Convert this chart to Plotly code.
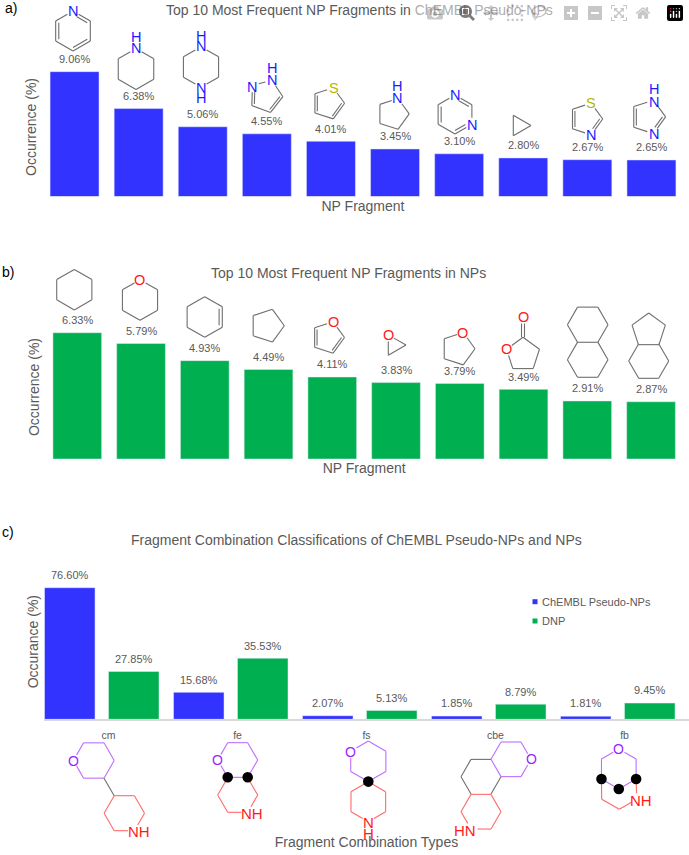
import math
import plotly.graph_objects as go

W, H = 689, 855
FONT = "Liberation Sans"
TXT = "#595959"
BLUE = "#3333FF"
GREEN = "#00B050"

# ---------- data ----------
np_fragments_a = ["Pyridine", "Piperidine", "Piperazine", "Pyrazole", "Thiophene",
                  "Pyrrolidine", "Pyrimidine", "Cyclopropane", "Thiazole", "Imidazole"]
occurrence_a = [9.06, 6.38, 5.06, 4.55, 4.01, 3.45, 3.10, 2.80, 2.67, 2.65]

np_fragments_b = ["Cyclohexane", "Tetrahydropyran", "Cyclohexene", "Cyclopentane", "Furan",
                  "Oxirane", "Tetrahydrofuran", "Butyrolactone", "Decalin", "Hydrindane"]
occurrence_b = [6.33, 5.79, 4.93, 4.49, 4.11, 3.83, 3.79, 3.49, 2.91, 2.87]

combo_types = ["cm", "fe", "fs", "cbe", "fb"]
chembl_pseudo_nps = [76.60, 15.68, 2.07, 1.85, 1.81]
dnp = [27.85, 35.53, 5.13, 8.79, 9.45]

# ---------- drawing helpers for molecule sketches (pixel positions on the page) ----------
shapes, annotations = [], []
GRAY, NBLUE, SYEL, ORED = "#6E6E6E", "#1A1AFF", "#B5B500", "#FF1A1A"
PURP, PURPL, RED_L, RED_T = "#BE6EFF", "#9A1FFF", "#FF6A6A", "#FF1A1A"


def px(x):
    return x / W


def py(y):
    return 1 - y / H


def text(x, y, s, size=14.5, color=TXT, anchor="center", angle=0):
    annotations.append(dict(xref="paper", yref="paper", x=px(x), y=py(y), text=s, showarrow=False,
                            xanchor=anchor, yanchor="middle", textangle=angle,
                            font=dict(family=FONT, size=size, color=color)))


def poly(cx, cy, r, n, rot=0):
    return [(cx + r * math.sin(math.radians(rot + 360 * i / n)),
             cy - r * math.cos(math.radians(rot + 360 * i / n))) for i in range(n)]


def seg(a, b, color=GRAY, ta=0, tb=0, w=1.1):
    d = math.hypot(b[0] - a[0], b[1] - a[1])
    ux, uy = (b[0] - a[0]) / d, (b[1] - a[1]) / d
    shapes.append(dict(type="line", xref="paper", yref="paper",
                       x0=px(a[0] + ux * ta), y0=py(a[1] + uy * ta),
                       x1=px(b[0] - ux * tb), y1=py(b[1] - uy * tb),
                       line=dict(color=color, width=w)))


def ring(cx, cy, r, n, rot=0, hetero=None, doubles=(), skip=(), color=GRAY, trim=6.5):
    """hetero: {vertex index: True}; doubles: edges i-(i+1) drawn with an inner line."""
    hetero = hetero or {}
    v = poly(cx, cy, r, n, rot)
    for i in range(n):
        if i in skip:
            continue
        j = (i + 1) % n
        ta = trim if i in hetero else 0
        tb = trim if j in hetero else 0
        seg(v[i], v[j], color, ta, tb)
        if i in doubles:
            k = 0.18
            a = (v[i][0] + (cx - v[i][0]) * k, v[i][1] + (cy - v[i][1]) * k)
            b = (v[j][0] + (cx - v[j][0]) * k, v[j][1] + (cy - v[j][1]) * k)
            seg(a, b, color, 4 if i in hetero else 0, 4 if j in hetero else 0)
    return v


def dot(x, y, r=5.3):
    shapes.append(dict(type="circle", xref="paper", yref="paper", x0=px(x - r), x1=px(x + r),
                       y0=py(y - r), y1=py(y + r), fillcolor="black", line=dict(width=0)))


# ---------- panel a sketches ----------
v = ring(73, 31, 20, 6, hetero={0: 1}, doubles=(0, 2, 4))
text(73, 11, "N", color=NBLUE)
ring(136, 69, 20.5, 6, hetero={0: 1})
text(135.5, 48, "N", color=NBLUE); text(135.5, 37, "H", color=NBLUE)
ring(201, 67, 20.3, 6, hetero={0: 1, 3: 1})
text(201, 46.5, "N", color=NBLUE); text(201, 36, "H", color=NBLUE)
text(201, 87.5, "N", color=NBLUE); text(201, 98, "H", color=NBLUE)
ring(265.9, 96.1, 17, 5, 20, hetero={0: 1, 4: 1}, doubles=(1, 3))
text(252, 86.7, "N", color=NBLUE); text(271.7, 80, "N", color=NBLUE); text(271.7, 68.5, "H", color=NBLUE)
ring(328.2, 103.3, 16.4, 5, 18, hetero={0: 1}, doubles=(1, 3))
text(333.5, 87.5, "S", color=SYEL)
ring(393, 113.9, 16.2, 5, 18, hetero={0: 1})
text(397.3, 98.3, "N", color=NBLUE); text(397.3, 86.5, "H", color=NBLUE)
ring(455, 114.5, 19.5, 6, hetero={0: 1, 2: 1}, doubles=(0, 2, 4))
text(455, 95, "N", color=NBLUE); text(472, 124.5, "N", color=NBLUE)
ring(519.2, 125.5, 11.8, 3, 90)
ring(586, 119, 16.7, 5, 90, hetero={1: 1, 4: 1}, doubles=(0, 2))
text(591, 135, "N", color=NBLUE); text(591, 103.3, "S", color=SYEL)
ring(648, 116.9, 17.6, 5, 90, hetero={1: 1, 4: 1}, doubles=(0, 2))
text(654, 133.5, "N", color=NBLUE); text(654, 101.7, "N", color=NBLUE); text(654, 89.5, "H", color=NBLUE)

# ---------- panel b sketches ----------
ring(74.3, 289.7, 20.3, 6)
ring(140, 300, 20.3, 6, hetero={0: 1})
text(139.5, 280, "O", color=ORED)
ring(204.7, 317, 20.3, 6, doubles=(1,))
ring(267.1, 325.7, 17.2, 5, 90)
ring(328, 337.5, 16.5, 5, 18, hetero={0: 1}, doubles=(1, 3))
text(333.3, 321.7, "O", color=ORED)
ring(394.2, 345.1, 11.8, 3, 90, hetero={2: 1})
text(388.3, 335.3, "O", color=ORED)
ring(458, 348.7, 17, 5, 18, hetero={0: 1})
text(462.9, 332.7, "O", color=ORED)
ring(523, 354.6, 17.3, 5, 0, hetero={4: 1})
text(506.7, 349.3, "O", color=ORED); text(523, 317.3, "O", color=ORED)
seg((521.5, 337.3), (521.5, 323.5)); seg((524.5, 337.3), (524.5, 323.5))
ring(587.7, 324.7, 20.3, 6, 30)
ring(587.7, 359.7, 20.3, 6, 30, skip=(5,))
ring(648.7, 330.5, 17.5, 5, 0)
ring(648.7, 361, 20, 6, 30, skip=(5,))

# ---------- panel c sketches ----------
v = ring(93.8, 760.5, 20.4, 6, 30, hetero={4: 1}, color=PURP)
text(73.3, 760.7, "O", size=14, color=PURPL)
u = ring(124.3, 813.2, 20.2, 6, 30, hetero={2: 1}, color=RED_L)
seg(v[2], u[5], GRAY)
text(139, 831.5, "NH", size=15, color=RED_T)

v = ring(237.7, 760, 20, 6, 30, hetero={4: 1}, color=PURP)
text(217.3, 760, "O", size=14, color=PURPL)
ring(237.7, 795, 20, 6, 30, hetero={2: 1}, skip=(5,), color=RED_L)
text(252.3, 813, "NH", size=15, color=RED_T)
dot(*v[2]); dot(*v[3])

v = ring(368.3, 761.3, 20.3, 6, hetero={5: 1}, color=PURP)
text(350.7, 751.7, "O", size=14, color=PURPL)
ring(368.3, 801.7, 20, 6, hetero={3: 1}, color=RED_L)
text(368.3, 822, "N", size=15, color=RED_T); text(368.3, 833.5, "H", size=15, color=RED_T)
dot(*v[3])

v = ring(511, 759.3, 20, 6, 30, hetero={1: 1}, color=PURP)
text(531, 759.3, "O", size=14, color=PURPL)
g = poly(481, 776.7, 20, 6, 30)
for i in (1, 2, 3, 5):
    pass
seg(g[5], g[0], GRAY); seg(g[3], g[4], GRAY); seg(g[4], g[5], GRAY); seg(g[1], g[2], GRAY)
ring(481, 811.7, 20, 6, 30, hetero={3: 1}, color=RED_L)
text(465, 830, "HN", size=15, color=RED_T)

v = ring(618.8, 769, 20, 6, hetero={0: 1}, color=PURP)
text(618.3, 749.3, "O", size=14, color=PURPL)
seg(v[4], (601.7, 799.3), RED_L); seg((601.7, 799.3), (619.3, 809.3), RED_L)
seg((619.3, 809.3), (636.7, 799.3), RED_L, 0, 6); seg((636.7, 799.3), v[2], RED_L, 6, 0)
text(641, 800, "NH", size=15, color=RED_T)
dot(*v[2]); dot(*v[3]); dot(*v[4])

# ---------- value labels ----------
def value_labels(cats, vals, xref, yref, shift=12.7):
    for c, val in zip(cats, vals):
        annotations.append(dict(xref=xref, yref=yref, x=c, y=val, text=f"{val:.2f}%", yshift=shift,
                                showarrow=False, xanchor="center", yanchor="middle",
                                font=dict(family=FONT, size=11, color=TXT)))


value_labels(np_fragments_a, occurrence_a, "x", "y")
value_labels(np_fragments_b, occurrence_b, "x2", "y2")

fig = go.Figure()
fig.add_bar(x=np_fragments_a, y=occurrence_a, marker_color=BLUE, xaxis="x", yaxis="y", showlegend=False)
fig.add_bar(x=np_fragments_b, y=occurrence_b, marker_color=GREEN, xaxis="x2", yaxis="y2", showlegend=False)
fig.add_bar(x=combo_types, y=chembl_pseudo_nps, marker_color=BLUE, xaxis="x3", yaxis="y3",
            name="ChEMBL Pseudo-NPs", showlegend=False, offsetgroup="a",
            width=50.5 / 129, offset=-0.4959)
fig.add_bar(x=combo_types, y=dnp, marker_color=GREEN, xaxis="x3", yaxis="y3",
            name="DNP", showlegend=False, offsetgroup="b",
            width=50.5 / 129, offset=0.0)

# grouped-bar labels follow the bar centres
for i, (c, a, b) in enumerate(zip(combo_types, chembl_pseudo_nps, dnp)):
    for val, cen in ((a, i - 0.4959 + 50.5 / 258), (b, i + 50.5 / 258)):
        annotations.append(dict(xref="x3", yref="y3", x=cen, y=val, text=f"{val:.2f}%", yshift=12.7,
                                showarrow=False, xanchor="center", yanchor="middle",
                                font=dict(family=FONT, size=11, color=TXT)))

# ---------- titles, panel letters, legend ----------
text(359, 10, "Top 10 Most Frequent NP Fragments in ChEMBL Pseudo-NPs", size=14)
text(349, 273, "Top 10 Most Frequent NP Fragments in NPs", size=14)
text(356, 540, "Fragment Combination Classifications of ChEMBL Pseudo-NPs and NPs", size=14)
text(3, 8, "a)", size=14, color="black", anchor="left")
text(0, 272, "b)", size=14, color="black", anchor="left")
text(0, 532, "c)", size=14, color="black", anchor="left")

for yy, col, name in ((601.7, BLUE, "ChEMBL Pseudo-NPs"), (621, GREEN, "DNP")):
    shapes.append(dict(type="rect", xref="paper", yref="paper", x0=px(532.5), x1=px(537.5),
                       y0=py(yy - 2.5), y1=py(yy + 2.5), fillcolor=col, line=dict(width=0)))
    text(540, yy, name, size=11, anchor="left")


def ydom(top, bottom):
    return [1 - bottom / H, 1 - top / H]


def xdom(left, right):
    return [left / W, right / W]


title_font = dict(family=FONT, size=14, color=TXT)
common_y = dict(showgrid=False, zeroline=False, showticklabels=False, ticks="", showline=False)
common_x = dict(showgrid=False, zeroline=False, showline=False)

fig.update_layout(
    width=W, height=H, margin=dict(l=0, r=0, t=0, b=0, pad=0), autosize=False,
    paper_bgcolor="white", plot_bgcolor="white",
    font=dict(family=FONT, color=TXT),
    shapes=shapes, annotations=annotations,
    bargap=0.236,
    xaxis=dict(domain=xdom(42.5, 683.5), anchor="y", showticklabels=False, ticks="",
               title=dict(text="NP Fragment", font=title_font, standoff=4), **common_x),
    yaxis=dict(domain=ydom(57.5, 196.5), anchor="x", range=[0, 139 / 13.78],
               title=dict(text="Occurrence (%)", font=title_font, standoff=1), **common_y),
    xaxis2=dict(domain=xdom(45.4, 682.9), anchor="y2", showticklabels=False, ticks="",
                title=dict(text="NP Fragment", font=title_font, standoff=4), **common_x),
    yaxis2=dict(domain=ydom(315, 459), anchor="x2", range=[0, 144 / 19.95],
                title=dict(text="Occurrence (%)", font=title_font, standoff=1), **common_y),
    xaxis3=dict(domain=xdom(44, 689), anchor="y3", showgrid=False, zeroline=False, showline=True,
                linecolor="#D9D9D9", linewidth=1.5, ticks="outside", ticklen=5,
                tickcolor="rgba(0,0,0,0)", tickfont=dict(family=FONT, size=10.5, color=TXT),
                title=dict(text="Fragment Combination Types", font=title_font, standoff=98)),
    yaxis3=dict(domain=ydom(564, 719.3), anchor="x3", range=[0, 155.3 / 1.718],
                title=dict(text="Occurance (%)", font=title_font, standoff=1), **common_y),
)

fig.write_html("out.html", post_script="document.body.style.margin='0';document.body.style.overflow='hidden';")
